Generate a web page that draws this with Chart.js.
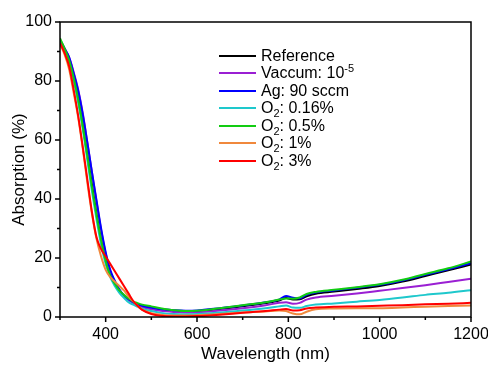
<!DOCTYPE html>
<html>
<head>
<meta charset="utf-8">
<script src="https://cdn.jsdelivr.net/npm/chart.js@4.4.1/dist/chart.umd.min.js"></script>
<style>
  html, body { margin: 0; padding: 0; background: #fff; }
  #wrap { position: relative; width: 488px; height: 367px; }
  #legend { position: absolute; left: 219px; top: 47px; font: 16px "Liberation Sans", Arial, sans-serif; color: #000; }
  #legend .row { height: 17.5px; display: flex; align-items: center; white-space: nowrap; }
  #legend .sw { display: inline-block; width: 37px; height: 2px; margin-right: 5px; }
  #legend sub, #legend sup { font-size: 11px; line-height: 0; }
</style>
</head>
<body>
<div id="wrap">
  <canvas id="absChart" width="488" height="367"></canvas>
  <div id="legend"></div>
</div>
<script>
// wavelength (nm)
const wavelengths = [300, 310, 320, 330, 340, 350, 360, 370, 380, 390, 400, 410, 420, 430, 440, 450, 460, 470, 480,
  500, 520, 550, 575, 600, 650, 700, 750, 780, 795, 810, 825, 840, 860, 900, 950, 1000, 1050, 1100, 1150, 1200];

// absorption (%)
const reference = [94, 91, 87, 81, 74, 65, 55, 45, 35, 26.5, 19.5, 14.5, 11.3, 8.7, 7.1, 6, 5, 4.3, 3.8,
  3.2, 2.6, 2.1, 1.9, 2.0, 2.7, 3.6, 4.7, 5.6, 6.4, 5.9, 6.0, 7.0, 7.9, 8.6, 9.5, 10.5, 12.0, 13.9, 15.8, 17.8];
const vaccum = [93.5, 91, 88, 83, 77, 69, 59, 49, 39, 29.5, 21.5, 15.5, 12, 9.2, 7.2, 5.8, 4.8, 4, 3.4,
  2.6, 2.1, 1.7, 1.5, 1.6, 2.2, 3.0, 4.0, 4.8, 5.0, 4.5, 4.8, 5.9, 6.6, 7.2, 8.0, 8.9, 9.8, 10.8, 11.9, 13.0];
const ag90 = [93.5, 91, 88, 82.5, 76.5, 68.5, 59, 49, 39.5, 30, 22, 16, 12.3, 9.3, 7.3, 6, 5, 4.3, 3.8,
  3.2, 2.7, 2.3, 2.1, 2.2, 3.0, 3.9, 5.0, 5.9, 7.1, 6.5, 6.3, 7.5, 8.3, 9.0, 9.9, 10.9, 12.4, 14.3, 16.2, 18.2];
const o2_016 = [93, 90, 86, 80, 72.5, 63.5, 53, 42.5, 33, 24.5, 18, 13.5, 10.5, 8.2, 6.5, 5, 4.2, 3.5, 2.8,
  2.0, 1.4, 1.0, 0.9, 1.0, 1.5, 2.2, 3.0, 3.6, 3.9, 3.2, 3.1, 3.7, 4.2, 4.6, 5.2, 5.8, 6.6, 7.5, 8.2, 9.1];
const o2_05 = [94.5, 91, 87, 81, 73.5, 64.5, 54.5, 44, 34.5, 26, 19, 14, 11.3, 9, 7.5, 6.3, 5.3, 4.7, 4.2,
  3.6, 3.0, 2.3, 2.0, 2.1, 3.0, 4.0, 5.0, 5.9, 6.3, 6.2, 6.6, 7.8, 8.5, 9.2, 10.1, 11.1, 12.6, 14.6, 16.5, 18.8];
const o2_1 = [92.5, 89, 84, 76, 67.5, 57, 45.5, 35, 26.5, 20.5, 16, 13.5, 12, 10.5, 9, 7, 5.3, 3.8, 2.5,
  1.3, 0.8, 0.5, 0.5, 0.6, 1.0, 1.5, 1.9, 2.2, 2.0, 1.2, 0.9, 1.8, 2.6, 2.9, 3.0, 3.0, 3.2, 3.5, 3.7, 3.9];
const o2_3 = [93, 89.5, 85, 77, 68, 57.5, 46.5, 35.5, 27, 23, 20.5, 18, 15.5, 13, 10.5, 8, 5.5, 3.8, 2.4,
  1.0, 0.4, 0.2, 0.2, 0.3, 0.8, 1.4, 2.0, 2.5, 2.7, 2.2, 2.3, 2.9, 3.2, 3.5, 3.6, 3.8, 4.0, 4.3, 4.5, 4.8];

const seriesNames = ['Reference', 'Vaccum: 10<sup>-5</sup>', 'Ag: 90 sccm', 'O<sub>2</sub>: 0.16%',
  'O<sub>2</sub>: 0.5%', 'O<sub>2</sub>: 1%', 'O<sub>2</sub>: 3%'];
const seriesValues = [reference, vaccum, ag90, o2_016, o2_05, o2_1, o2_3];
const seriesColors = ['#000000', '#9a1fd3', '#0000ff', '#1ec8cc', '#12cc12', '#f0883c', '#ff0000'];

const xTicks = [400, 600, 800, 1000, 1200];
const yTicks = [0, 20, 40, 60, 80, 100];

const font = '"Liberation Sans", Arial, sans-serif';

// frame + tick marks like the origin plot (major long, minor short)
const frame = {
  id: 'frame',
  afterDraw(chart) {
    const { ctx, chartArea: a, scales: { x, y } } = chart;
    ctx.save();
    ctx.strokeStyle = '#000';
    ctx.lineWidth = 1.5;
    ctx.strokeRect(a.left, a.top, a.right - a.left, a.bottom - a.top);
    ctx.beginPath();
    x.ticks.forEach(t => {
      const px = x.getPixelForValue(t.value);
      ctx.moveTo(px, a.bottom);
      ctx.lineTo(px, a.bottom + (xTicks.includes(t.value) ? 5 : 3));
    });
    y.ticks.forEach(t => {
      const py = y.getPixelForValue(t.value);
      ctx.moveTo(a.left, py);
      ctx.lineTo(a.left - (yTicks.includes(t.value) ? 5 : 3), py);
    });
    ctx.stroke();
    ctx.restore();
  }
};

const ctx = document.getElementById('absChart');
new Chart(ctx, {
  type: 'line',
  data: {
    datasets: seriesValues.map((vals, i) => ({
      label: seriesNames[i].replace(/<[^>]+>/g, ''),
      data: vals.map((v, j) => ({ x: wavelengths[j], y: v })),
      borderColor: seriesColors[i],
      borderWidth: 2,
      pointRadius: 0,
      cubicInterpolationMode: 'monotone',
      order: seriesValues.length - i
    }))
  },
  options: {
    responsive: false,
    animation: false,
    devicePixelRatio: 1,
    layout: { padding: { top: 22, right: 17, left: 0, bottom: 0 } },
    plugins: { legend: { display: false }, tooltip: { enabled: false } },
    scales: {
      x: {
        type: 'linear', min: 300, max: 1200,
        grid: { display: false, drawTicks: false },
        border: { display: false },
        ticks: {
          stepSize: 100, padding: 8, color: '#000', maxRotation: 0,
          font: { family: font, size: 16 },
          callback: v => xTicks.includes(v) ? v : ''
        },
        title: { display: true, text: 'Wavelength (nm)', color: '#000',
          font: { family: font, size: 17 }, padding: { top: 0, bottom: 2 } },
        afterFit: s => { s.height = 50; s.paddingRight = 0; s.paddingLeft = 0; }
      },
      y: {
        min: 0, max: 100,
        grid: { display: false, drawTicks: false },
        border: { display: false },
        ticks: {
          stepSize: 10, padding: 8, color: '#000',
          font: { family: font, size: 16 },
          callback: v => yTicks.includes(v) ? v : ''
        },
        title: { display: true, text: 'Absorption (%)', color: '#000',
          font: { family: font, size: 17 }, padding: { top: 9, bottom: 0 } },
        afterFit: s => { s.width = 60; }
      }
    }
  },
  plugins: [frame]
});

// legend inside the plot, with sub/superscripts
document.getElementById('legend').innerHTML = seriesNames.map((name, i) =>
  '<div class="row"><span class="sw" style="background:' + seriesColors[i] + '"></span><span>' + name + '</span></div>'
).join('');
</script>
</body>
</html>
